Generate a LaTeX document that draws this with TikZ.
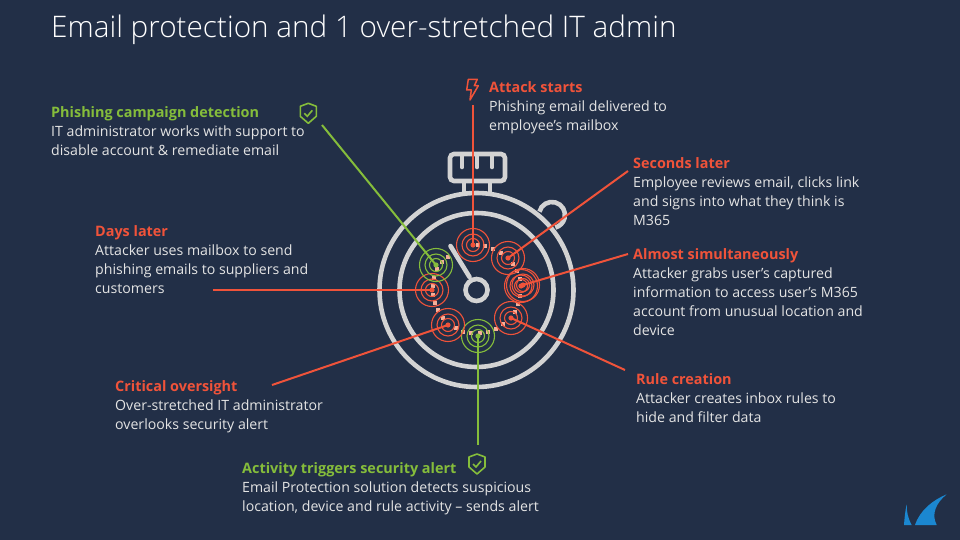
\documentclass[tikz,border=0pt]{standalone}
\usepackage{fontspec}
\setmainfont{Open Sans}
\newfontfamily\lightfont{Open Sans Light}
\definecolor{slate}{HTML}{222F47}
\definecolor{alertred}{HTML}{F0533A}
\definecolor{safegreen}{HTML}{85BD3B}
\definecolor{watchgrey}{HTML}{D3D3D3}
\definecolor{bodygrey}{HTML}{E4E4E4}
\definecolor{pinkdot}{HTML}{F4B09A}
\definecolor{finblue}{HTML}{1B87D0}
\tikzset{
    blurb/.style={anchor=north west,inner sep=0pt,align=left,text=bodygrey,font=\fontsize{14.15}{19}\selectfont},
    target/.style={circle,draw=#1,line width=1.1pt,minimum size=33pt,inner sep=0pt},
    watch/.style={draw=watchgrey,line width=4.6pt},
    leader/.style={line width=2pt},
    shieldicon/.pic={
        \draw[safegreen,line width=1.6pt,line join=round] (0,-10) -- (8,-7) -- (8,3) -- (0,10) -- (-8,3) -- (-8,-7) -- cycle;
        \draw[safegreen,line width=1.6pt] (-4,0) -- (-1,3) -- (4,-3);
    }
}
\newcommand{\hd}[2]{{\bfseries\fontsize{14.4}{19}\selectfont\color{#1}#2}}
\begin{document}
\begin{tikzpicture}[x=1pt,y=-1pt]
    \fill[slate] (0,0) rectangle (960,540);
    \useasboundingbox (0,0) rectangle (960,540);

    \node[anchor=west,inner sep=0pt,text=white,font=\lightfont\fontsize{29.7}{32}\selectfont] (title) at (51,30) {Email protection and 1 over-stretched IT admin};

    % stopwatch
    \draw[watch] (539.4,211.6) arc[start angle=-165,end angle=75,radius=13];
    \draw[watch] (476.5,290) circle (97);
    \draw[watch] (476.5,290) circle (77);
    \draw[watch] (476.5,290) circle (11);
    \draw[watch,line cap=round] (469.5,277) -- (450.5,246);
    \draw[watch,rounded corners=4pt] (450,154) rectangle (505,181);
    \draw[watch] (464,181) -- (464,192);
    \draw[watch] (490,181) -- (490,192);
    \foreach \notch in {462,477,492}{
        \draw[watch,line cap=round] (\notch,155) -- (\notch,167);
    }

    % dotted path between the targets
    \foreach \dotx/\doty in {478/245,485/246,493/249,501/253,513/264,517/271,520/279,520/296,518/304,515/312,503/324,496/329,488/332,480/333,471/333,463/332,456/328,443/318,438/310,435/303,433/295,433/286,434/278,437/269,442/262,448/257}{
        \fill[pinkdot] (\dotx-1.8,\doty-1.8) rectangle (\dotx+1.8,\doty+1.8);
    }

    % targets
    \foreach \name/\tx/\ty/\col in {attack/473/245/alertred,seconds/508/258/alertred,almost/523/285/alertred,almostb/521/286/alertred,rule/511/318/alertred,activity/478/336/safegreen,critical/448/325/alertred,days/432/290/alertred,phishing/436/265/safegreen}{
        \node[target=\col] (\name) at (\tx,\ty) {};
        \draw[\col,line width=1.1pt] (\name.center) circle (11);
        \draw[\col,line width=1.1pt] (\name.center) circle (6.5);
        \fill[\col] (\name.center) circle (2.6);
    }

    % end points of the leaders
    \coordinate (attackend) at (473,105);
    \coordinate (secondsend) at (628,171);
    \coordinate (almostend) at (628,254);
    \coordinate (ruleend) at (625,370);
    \coordinate (activityend) at (478,445);
    \coordinate (criticalend) at (272,385);
    \coordinate (daysend) at (213,290);
    \coordinate (phishingend) at (322,125);

    \foreach \name in {attack,seconds,almost,rule,critical,days}{
        \draw[leader,alertred] (\name.center) -- (\name end);
    }
    \foreach \name in {activity,phishing}{
        \draw[leader,safegreen] (\name.center) -- (\name end);
    }

    % texts
    \node[blurb] (phishingtext) at (51,106.5) {\hd{safegreen}{Phishing campaign detection}\\IT administrator works with support to\\disable account \& remediate email};
    \node[blurb] (attacktext) at (489,81.5) {\hd{alertred}{Attack starts}\\Phishing email delivered to\\employee’s mailbox};
    \node[blurb] (secondstext) at (633,157.5) {\hd{alertred}{Seconds later}\\Employee reviews email, clicks link\\and signs into what they think is\\M365};
    \node[blurb] (almosttext) at (633,248.5) {\hd{alertred}{Almost simultaneously}\\Attacker grabs user’s captured\\information to access user’s M365\\account from unusual location and\\device};
    \node[blurb] (daystext) at (95,225.5) {\hd{alertred}{Days later}\\Attacker uses mailbox to send\\phishing emails to suppliers and\\customers};
    \node[blurb] (criticaltext) at (115,380.5) {\hd{alertred}{Critical oversight}\\Over-stretched IT administrator\\overlooks security alert};
    \node[blurb] (ruletext) at (636,373.5) {\hd{alertred}{Rule creation}\\Attacker creates inbox rules to\\hide and filter data};
    \node[blurb] (activitytext) at (242,462.5) {\hd{safegreen}{Activity triggers security alert}\\Email Protection solution detects suspicious\\location, device and rule activity – sends alert};

    % icons
    \pic at (308.3,113.3) {shieldicon};
    \pic at (477,464) {shieldicon};
    \draw[alertred,line width=1.5pt,line join=round] (468.3,79.3) -- (477.3,79.3) -- (474.3,85.7) -- (478.3,85.7) -- (470,100) -- (471.3,90) -- (466.7,90) -- cycle;

    % logo
    \fill[finblue] (906.7,504.3) .. controls (905,512) and (904.5,518) .. (904,525) -- (911.7,525) .. controls (908,518) and (906.5,512) .. (906.7,504.3) -- cycle;
    \fill[finblue] (915,525) .. controls (920,510) and (933,500) .. (946.7,494.3) .. controls (936,503) and (931,514) .. (936.7,525) -- cycle;
\end{tikzpicture}
\end{document}
